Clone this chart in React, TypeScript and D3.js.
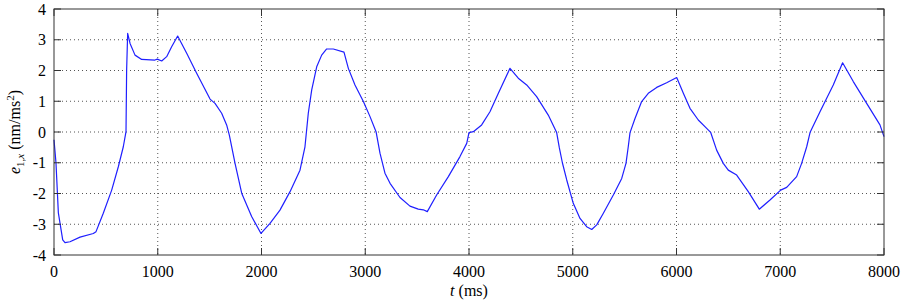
import React from 'react'
import * as d3 from 'd3'

// time (ms) and acceleration error samples
const times = [
  0, 19, 42, 84, 106, 154, 251, 379, 405, 475, 556, 620, 668, 694, 700, 710, 733, 781, 845, 973,
  996, 1038, 1086, 1134, 1192, 1279, 1375, 1504, 1552, 1616, 1664, 1690, 1745, 1809, 1905, 1995, 2082, 2178, 2275, 2371,
  2419, 2451, 2484, 2532, 2580, 2628, 2692, 2795, 2837, 2901, 2982, 3046, 3104, 3142, 3190, 3239, 3335, 3431, 3511, 3560,
  3598, 3688, 3801, 3913, 3978, 4000, 4042, 4122, 4202, 4283, 4395, 4475, 4556, 4652, 4764, 4845, 4870, 4900, 4942, 5005,
  5070, 5134, 5183, 5231, 5295, 5391, 5472, 5513, 5535, 5552, 5600, 5664, 5728, 5809, 5905, 6002, 6066, 6130, 6210, 6291,
  6329, 6387, 6451, 6499, 6580, 6692, 6798, 6901, 7004, 7062, 7158, 7206, 7255, 7287, 7383, 7511, 7601, 7704, 7833, 7961,
  8000
]
const values = [
  -0.25, -1.0, -2.63, -3.51, -3.6, -3.57, -3.42, -3.3, -3.24, -2.64, -1.89, -1.13, -0.48, 0.01, 2.0, 3.21, 2.88, 2.5, 2.36, 2.34,
  2.37, 2.31, 2.45, 2.77, 3.12, 2.56, 1.91, 1.07, 0.93, 0.61, 0.23, -0.1, -1.02, -1.99, -2.75, -3.3, -2.97, -2.54, -1.94, -1.24,
  -0.48, 0.61, 1.37, 2.12, 2.5, 2.7, 2.7, 2.6, 2.07, 1.53, 0.99, 0.5, 0.01, -0.69, -1.34, -1.67, -2.13, -2.41, -2.51, -2.53,
  -2.59, -2.05, -1.45, -0.8, -0.37, -0.02, 0.01, 0.23, 0.66, 1.26, 2.07, 1.75, 1.53, 1.15, 0.55, -0.02, -0.5, -1.0, -1.56, -2.32,
  -2.81, -3.08, -3.17, -3.02, -2.64, -2.05, -1.51, -1.02, -0.48, -0.02, 0.44, 0.99, 1.26, 1.45, 1.6, 1.77, 1.26, 0.77, 0.39, 0.12,
  -0.01, -0.59, -1.02, -1.24, -1.4, -1.94, -2.51, -2.21, -1.89, -1.8, -1.45, -1.02, -0.48, -0.02, 0.66, 1.53, 2.25, 1.64, 0.93, 0.23,
  -0.15
]
const xTicks = [0, 1000, 2000, 3000, 4000, 5000, 6000, 7000, 8000]
const yTicks = [-4, -3, -2, -1, 0, 1, 2, 3, 4]

const W = 902
const H = 302
const margin = { left: 54, right: 18, top: 9, bottom: 47 }
const font = '"Liberation Serif", "Times New Roman", serif'

export default function App() {
  const x = d3.scaleLinear().domain([0, 8000]).range([margin.left, W - margin.right])
  const y = d3.scaleLinear().domain([-4, 4]).range([H - margin.bottom, margin.top])
  const pts: [number, number][] = times.map((t, i) => [t, values[i]])
  const line = d3.line<[number, number]>().x(d => x(d[0])).y(d => y(d[1]))
  const x0 = x(0), x1 = x(8000), y0 = y(-4), y1 = y(4)
  const tick = 7

  return (
    <svg width={W} height={H} style={{ position: 'absolute', left: 0, top: 0, background: '#fff' }}>
      <rect x={0} y={0} width={W} height={H} fill="#fff" />
      {/* grid */}
      <g stroke="#555" strokeWidth={1} strokeDasharray="1,3">
        {xTicks.slice(1, -1).map(t => (
          <line key={'gx' + t} x1={x(t)} x2={x(t)} y1={y1} y2={y0} />
        ))}
        {yTicks.slice(1, -1).map(v => (
          <line key={'gy' + v} x1={x0} x2={x1} y1={y(v)} y2={y(v)} />
        ))}
      </g>
      {/* data */}
      <path d={line(pts) || ''} fill="none" stroke="#1f1fff" strokeWidth={1.2} strokeLinejoin="round" />
      {/* ticks */}
      <g stroke="#333" strokeWidth={1}>
        {xTicks.map(t => (
          <g key={'tx' + t}>
            <line x1={x(t)} x2={x(t)} y1={y0} y2={y0 - tick} />
            <line x1={x(t)} x2={x(t)} y1={y1} y2={y1 + tick} />
          </g>
        ))}
        {yTicks.map(v => (
          <g key={'ty' + v}>
            <line x1={x0} x2={x0 + tick} y1={y(v)} y2={y(v)} />
            <line x1={x1} x2={x1 - tick} y1={y(v)} y2={y(v)} />
          </g>
        ))}
      </g>
      <rect x={x0} y={y1} width={x1 - x0} height={y0 - y1} fill="none" stroke="#333" strokeWidth={1} />
      {/* tick labels */}
      <g fontFamily={font} fontSize={16} fill="#000">
        {xTicks.map(t => (
          <text key={'lx' + t} x={x(t)} y={y0 + 22} textAnchor="middle">{t}</text>
        ))}
        {yTicks.map(v => (
          <text key={'ly' + v} x={x0 - 8} y={y(v) + 5.5} textAnchor="end">{v}</text>
        ))}
      </g>
      {/* axis titles */}
      <text x={(x0 + x1) / 2} y={H - 6} textAnchor="middle" fontFamily={font} fontSize={16}>
        <tspan fontStyle="italic">t</tspan> (ms)
      </text>
      <text transform={`translate(20, ${(y0 + y1) / 2}) rotate(-90)`} textAnchor="middle" fontFamily={font} fontSize={16}>
        <tspan fontStyle="italic">e</tspan>
        <tspan fontSize={11} dy={4}>1,</tspan>
        <tspan fontSize={11} fontStyle="italic">x</tspan>
        <tspan dy={-4}> (nm/ms</tspan>
        <tspan fontSize={11} dy={-6}>2</tspan>
        <tspan dy={6}>)</tspan>
      </text>
    </svg>
  )
}
